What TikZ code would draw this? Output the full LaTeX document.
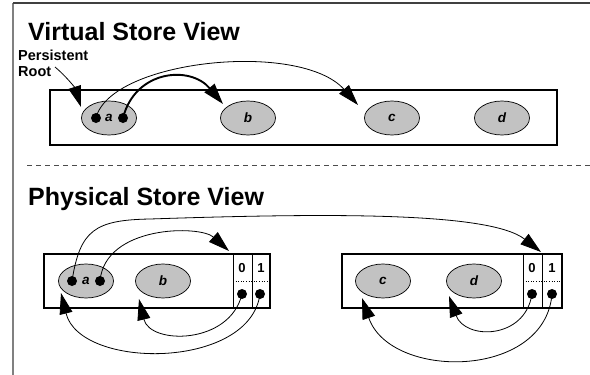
\documentclass[tikz,border=0pt]{standalone}
\usepackage{fontspec}
\setmainfont{Liberation Sans}
\usetikzlibrary{arrows.meta,shapes.geometric}
\begin{document}
\begin{tikzpicture}[x=1pt,y=-1pt,
  title/.style={anchor=base west,inner sep=0pt,font=\fontsize{25}{30}\selectfont\bfseries},
  store/.style={draw,line width=1.5pt,inner sep=0pt},
  obj/.style={ellipse,draw,line width=0.7pt,fill=black!24,minimum width=55pt,minimum height=34pt,inner sep=0pt,
    font=\fontsize{13.5}{15}\selectfont\bfseries\itshape},
  ptr/.style={circle,fill=black,minimum size=10pt,inner sep=0pt},
  slotlbl/.style={inner sep=0pt,font=\fontsize{13}{15}\selectfont\bfseries},
  cellline/.style={line width=0.8pt},
  link/.style={line width=0.8pt,-{Triangle[length=21pt,width=13pt]}},
  thicklink/.style={line width=1.9pt,-{Triangle[length=21pt,width=13pt]}}
]
\useasboundingbox (0,0) rectangle (590,375);

% page frame
\draw[black!50,line width=1.8pt] (13,3) -- (13,375);
\draw[black!75,line width=1.2pt] (13,3) -- (590,3);

% ---------- virtual store ----------
\node[title] (vtitle) at (28,40) {Virtual Store View};
\node[anchor=north west,inner sep=0pt,align=left,font=\fontsize{14.5}{15.5}\selectfont\bfseries] (root) at (18,50) {Persistent\\Root};

\node[store,minimum width=507pt,minimum height=55pt] (vbox) at (303.5,117.5) {};
\node[obj] (va) at (109,118) {a};
\node[obj] (vb) at (248,118) {b};
\node[obj] (vc) at (392,118) {c};
\node[obj] (vd) at (502,118) {d};
\node[ptr] (va1) at (96,118) {};
\node[ptr] (va2) at (123,118) {};

\coordinate (rootstart) at (55,67);
\coordinate (rootend) at (81,107);
\coordinate (vbend) at (223,104);
\coordinate (vcend) at (358,105);

\draw[link] (rootstart) .. controls (66,76) and (75,88) .. (rootend);
\draw[link] (va1.center) .. controls (110,60) and (300,40) .. (vcend);
\draw[thicklink] (va2.center) .. controls (135,70) and (190,65) .. (vbend);

% separator
\draw[black!70,line width=0.7pt,dash pattern=on 5pt off 4pt] (27,165) -- (590,165);

% ---------- physical store ----------
\node[title] (ptitle) at (28,205) {Physical Store View};

% first segment
\node[store,minimum width=226pt,minimum height=54pt] (pbox1) at (157,281) {};
\draw[cellline] (233,254) -- (233,308);
\draw[cellline] (252,254) -- (252,308);
\draw[dotted,line width=0.6pt] (233,281) -- (270,281);
\node[slotlbl] (s10) at (242,268) {0};
\node[slotlbl] (s11) at (261,268) {1};
\node[ptr] (d10) at (242,294) {};
\node[ptr] (d11) at (260,294) {};
\node[obj] (pa) at (86,281) {a};
\node[obj] (pb) at (163,281) {b};
\node[ptr] (pa1) at (72,281) {};
\node[ptr] (pa2) at (100,281) {};

% second segment
\node[store,minimum width=220pt,minimum height=54pt] (pbox2) at (452,281) {};
\draw[cellline] (523,254) -- (523,308);
\draw[cellline] (542,254) -- (542,308);
\draw[dotted,line width=0.6pt] (523,281) -- (562,281);
\node[slotlbl] (s20) at (532,268) {0};
\node[slotlbl] (s21) at (552,268) {1};
\node[ptr] (d20) at (532,294) {};
\node[ptr] (d21) at (552,294) {};
\node[obj] (pc) at (383,281) {c};
\node[obj] (pd) at (474,281) {d};

\coordinate (slot1top) at (229,251);
\coordinate (slot2top) at (541,252);
\coordinate (pbend) at (139,299);
\coordinate (paend) at (61,293);
\coordinate (pdend) at (449,296);
\coordinate (pcend) at (362,298);

\draw[link] (pa1.center) .. controls (80,230) and (95,220) .. (150,219)
  .. controls (330,213) and (490,212) .. (slot2top);
\draw[link] (pa2.center) .. controls (105,225) and (200,225) .. (slot1top);
\draw[link] (d10.center) .. controls (230,345) and (150,345) .. (pbend);
\draw[link] (d11.center) .. controls (250,370) and (80,370) .. (paend);
\draw[link] (d20.center) .. controls (525,340) and (465,340) .. (pdend);
\draw[link] (d21.center) .. controls (545,380) and (390,380) .. (pcend);
\end{tikzpicture}
\end{document}
